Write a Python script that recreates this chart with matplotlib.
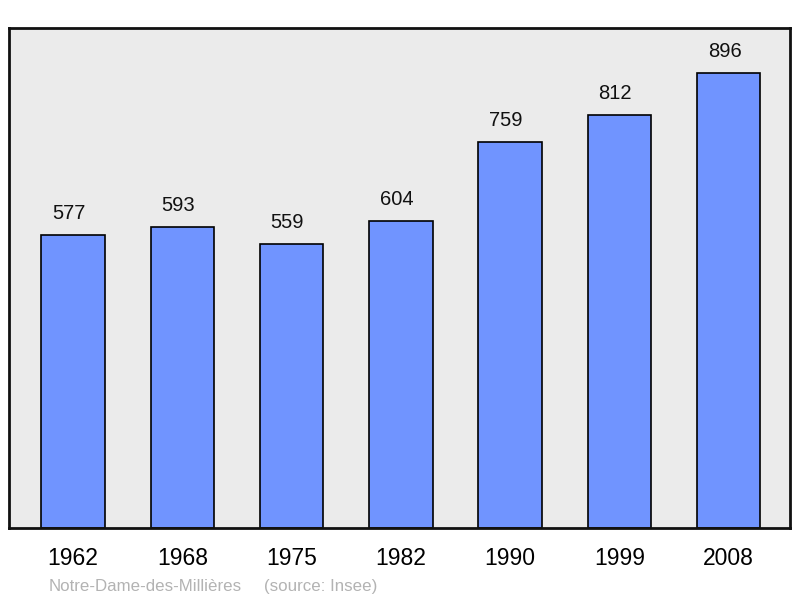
import matplotlib
matplotlib.use("Agg")
import matplotlib.pyplot as plt

years = ["1962", "1968", "1975", "1982", "1990", "1999", "2008"]
population = [577, 593, 559, 604, 759, 812, 896]

plt.rcParams['font.family'] = ['Liberation Sans', 'DejaVu Sans']

fig = plt.figure(figsize=(8, 5.98), dpi=100)
W, H = 800, 598
ax = fig.add_axes([9 / W, 1 - 528 / H, (790 - 9) / W, (528 - 28) / H])
ax.set_facecolor('#ebebeb')
x = list(range(len(years)))
ax.bar(x, population, width=0.58, color='#7094ff', edgecolor='black', linewidth=1.2, zorder=2)
for xi, v in zip(x, population):
    ax.annotate(str(v), (xi, v), xytext=(-3, 11.5), textcoords='offset points',
                ha='center', va='baseline', fontsize=14.5, color='#111111')
ax.set_xlim(-0.585, 6.56)
ax.set_ylim(0, 984)
ax.set_yticks([])
ax.set_xticks(x)
ax.set_xticklabels(years, fontsize=16.5)
ax.tick_params(axis='x', length=0, pad=14)
for s in ax.spines.values():
    s.set_linewidth(2)
    s.set_color('#111111')

fig.text(49 / W, 1 - 590.7 / H, "Notre-Dame-des-Millières",
         fontsize=12.2, color='#b3b3b3', ha='left', va='baseline')
fig.text(264 / W, 1 - 590.7 / H, "(source: Insee)",
         fontsize=12.2, color='#b3b3b3', ha='left', va='baseline')

fig.savefig('out.png', dpi=100)
